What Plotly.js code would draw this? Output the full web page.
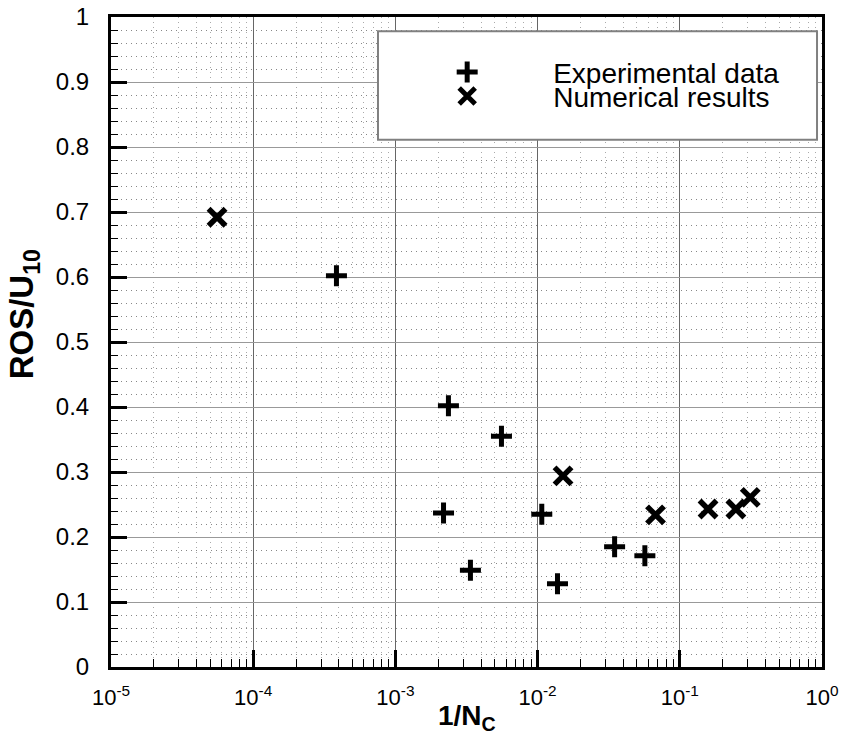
<!DOCTYPE html>
<html>
<head>
<meta charset="utf-8">
<script src="https://cdn.plot.ly/plotly-3.0.1.min.js"></script>
<style>html,body{margin:0;padding:0;background:#fff;}#chart{width:842px;height:738px;}</style>
</head>
<body>
<div id="chart"></div>
<script>
// Experimental data (+)
const expX = [3.85e-4, 2.36e-3, 5.57e-3, 2.18e-3, 3.37e-3, 1.07e-2, 1.38e-2, 3.48e-2, 5.68e-2];
const expY = [0.602, 0.402, 0.355, 0.237, 0.149, 0.235, 0.128, 0.185, 0.171];
// Numerical results (x)
const numX = [5.57e-5, 1.51e-2, 6.75e-2, 0.158, 0.248, 0.313];
const numY = [0.692, 0.294, 0.234, 0.243, 0.243, 0.261];
// Tick labels
const xTickVals = [1e-5, 1e-4, 1e-3, 1e-2, 1e-1, 1];
const xTickText = ['10<sup>-5</sup>', '10<sup>-4</sup>', '10<sup>-3</sup>', '10<sup>-2</sup>', '10<sup>-1</sup>', '10<sup>0</sup>'];
const seriesNames = ['Experimental data', 'Numerical results'];

const FONT = 'Liberation Sans, Arial, Helvetica, sans-serif';

const traces = [
  {
    x: expX, y: expY, type: 'scatter', mode: 'markers', name: seriesNames[0],
    marker: {symbol: 'cross-thin', size: 15, color: 'black', line: {color: 'black', width: 5}},
    legend: 'legend'
  },
  {
    x: numX, y: numY, type: 'scatter', mode: 'markers', name: seriesNames[1],
    marker: {symbol: 'x-thin', size: 17, color: 'black', line: {color: 'black', width: 5.5}},
    legend: 'legend2'
  }
];

const layout = {
  width: 842, height: 738,
  margin: {l: 111, r: 20, t: 17, b: 71},
  paper_bgcolor: 'white', plot_bgcolor: 'white',
  font: {family: FONT, color: 'black', size: 24},
  showlegend: true,
  xaxis: {
    type: 'log', range: [-5, 0],
    tickmode: 'array', tickvals: xTickVals, ticktext: xTickText,
    ticks: 'inside', ticklen: 17, tickwidth: 3, tickcolor: 'black',
    ticklabelstandoff: 9,
    showline: true, linecolor: 'black', linewidth: 3, mirror: true,
    showgrid: true, gridcolor: '#666', gridwidth: 1,
    zeroline: false,
    tickfont: {size: 22, family: FONT, color: 'black'},
    minor: {dtick: 'D1', ticks: 'inside', ticklen: 8, tickwidth: 1, tickcolor: 'black',
            showgrid: true, gridcolor: '#aaa', gridwidth: 1, griddash: '1px,4px'}
  },
  yaxis: {
    range: [0, 1], dtick: 0.1, tick0: 0,
    ticks: 'inside', ticklen: 16, tickwidth: 3, tickcolor: 'black',
    ticklabelstandoff: 14,
    showline: true, linecolor: 'black', linewidth: 3, mirror: true,
    showgrid: true, gridcolor: '#999', gridwidth: 1,
    zeroline: false,
    tickfont: {size: 24, family: FONT, color: 'black'},
    minor: {dtick: 0.02, ticks: 'inside', ticklen: 7, tickwidth: 1, tickcolor: 'black',
            showgrid: true, gridcolor: '#888', gridwidth: 1, griddash: '1px,4px'}
  },
  legend: {
    x: 0.38, y: 0.915, xanchor: 'left', yanchor: 'middle',
    bgcolor: 'rgba(0,0,0,0)', borderwidth: 0, itemwidth: 162,
    font: {size: 28, family: FONT, color: 'black'}
  },
  legend2: {
    x: 0.38, y: 0.878, xanchor: 'left', yanchor: 'middle',
    bgcolor: 'rgba(0,0,0,0)', borderwidth: 0, itemwidth: 162,
    font: {size: 28, family: FONT, color: 'black'}
  },
  shapes: [{
    type: 'rect', xref: 'paper', yref: 'paper', layer: 'above',
    x0: 0.3755, x1: 0.993, y0: 0.811, y1: 0.978,
    fillcolor: 'white', line: {color: '#808080', width: 2}
  }],
  annotations: [
    {
      text: '<b>ROS/U<sub>10</sub></b>', xref: 'paper', yref: 'paper',
      x: -0.122, y: 0.543, xanchor: 'center', yanchor: 'middle',
      textangle: -90, showarrow: false,
      font: {size: 33, family: FONT, color: 'black'}
    },
    {
      text: '<b>1/N<sub>C</sub></b>', xref: 'paper', yref: 'paper',
      x: 0.5, y: -0.077, xanchor: 'center', yanchor: 'middle',
      showarrow: false,
      font: {size: 28, family: FONT, color: 'black'}
    }
  ]
};

Plotly.newPlot('chart', traces, layout, {displayModeBar: false, staticPlot: true});
</script>
</body>
</html>
